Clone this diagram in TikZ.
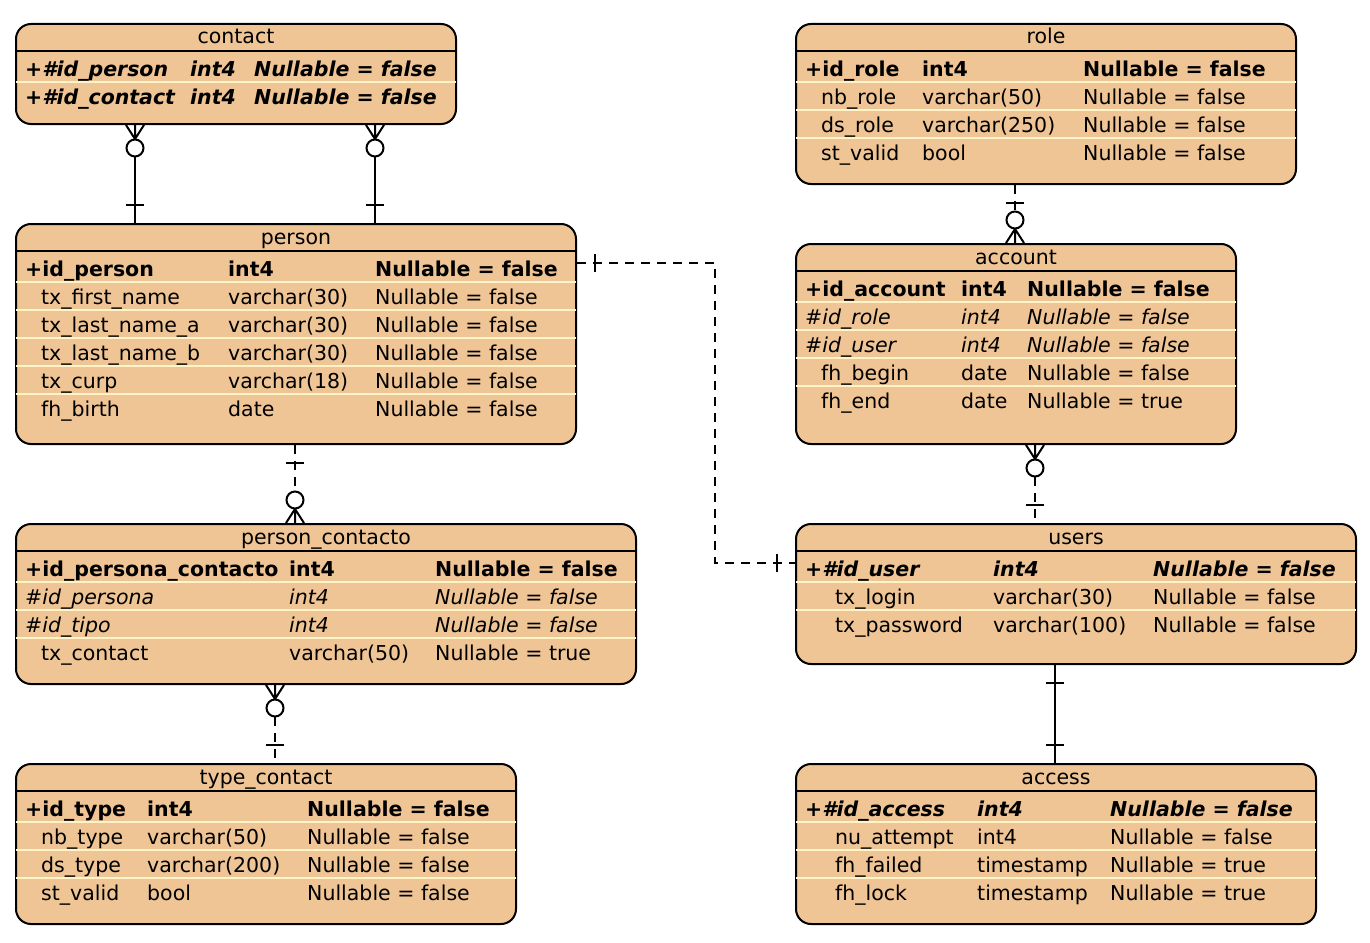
\documentclass[tikz,border=0pt]{standalone}
\usepackage{fontspec}
\setmainfont{DejaVu Sans}[Scale=2.05]
\usetikzlibrary{calc}
\definecolor{erfill}{RGB}{239,197,150}
\definecolor{rowsep}{RGB}{255,243,200}
\tikzset{
ertable/.style={draw, line width=2pt, fill=erfill, rounded corners=15pt, anchor=north west, inner sep=0pt},
ertitle/.style={anchor=base, inner sep=0pt},
cell/.style={anchor=base west, inner sep=0pt},
pk/.style={cell, font=\bfseries},
fk/.style={cell, font=\itshape},
pfk/.style={cell, font=\bfseries\itshape},
att/.style={cell},
rowline/.style={draw=rowsep, line width=2pt},
rel/.style={line width=2pt},
weak/.style={rel, dash pattern=on 9pt off 7pt},
zeromany/.pic={\draw[rel] (-9,0) -- (0,14) -- (9,0) (0,0) -- (0,14);
  \draw[rel, fill=white] (0,23) circle (8.5pt);},
onebar/.pic={\draw[rel] (-9,18) -- (9,18);},
}
% table box: name, x, y, width, height, title
\newcommand{\erentity}[6]{
  \node[ertable, minimum width=#4pt, minimum height=#5pt] (#1) at (#2,#3) {};
  \node[ertitle] (#1-title) at ($(#1.north)+(0,21)$) {#6};
  \draw[rel] ($(#1.north west)+(0,28)$) -- ($(#1.north east)+(0,28)$);
}
% table rows: name, type column, nullable column, list of style/indent/field/type/nullable
\newcommand{\erfields}[4]{
  \foreach \s/\dx/\fname/\ftype/\fnull [count=\i] in {#4} {
    \ifnum\i>1
      \draw[rowline] ($(#1.north west)+(1,{31+28*(\i-1)})$) -- ($(#1.north east)+(-1,{31+28*(\i-1)})$);
    \fi
    \node[\s] (#1-\i-a) at ($(#1.north west)+(\dx,{53+28*(\i-1)})$) {\fname};
    \node[\s] (#1-\i-b) at ($(#1.north west)+(#2,{53+28*(\i-1)})$) {\ftype};
    \node[\s] (#1-\i-c) at ($(#1.north west)+(#3,{53+28*(\i-1)})$) {\fnull};
  }
}

\begin{document}
\begin{tikzpicture}[x=1pt, y=-1pt]
\useasboundingbox (0,0) rectangle (1370,942);
% left column
\erentity{contact}{15}{23}{440}{100}{contact}
\erfields{contact}{175}{239}{
  pfk/10/+\#id\_person/int4/Nullable = false,
  pfk/10/+\#id\_contact/int4/Nullable = false}
\erentity{person}{15}{223}{560}{220}{person}
\erfields{person}{213}{360}{
  pk/10/+id\_person/int4/Nullable = false,
  att/26/tx\_first\_name/varchar(30)/Nullable = false,
  att/26/tx\_last\_name\_a/varchar(30)/Nullable = false,
  att/26/tx\_last\_name\_b/varchar(30)/Nullable = false,
  att/26/tx\_curp/varchar(18)/Nullable = false,
  att/26/fh\_birth/date/Nullable = false}
\erentity{pcontact}{15}{523}{620}{160}{person\_contacto}
\erfields{pcontact}{274}{420}{
  pk/10/+id\_persona\_contacto/int4/Nullable = false,
  fk/10/\#id\_persona/int4/Nullable = false,
  fk/10/\#id\_tipo/int4/Nullable = false,
  att/26/tx\_contact/varchar(50)/Nullable = true}
\erentity{tcontact}{15}{763}{500}{160}{type\_contact}
\erfields{tcontact}{132}{292}{
  pk/10/+id\_type/int4/Nullable = false,
  att/26/nb\_type/varchar(50)/Nullable = false,
  att/26/ds\_type/varchar(200)/Nullable = false,
  att/26/st\_valid/bool/Nullable = false}
% right column
\erentity{role}{795}{23}{500}{160}{role}
\erfields{role}{127}{288}{
  pk/10/+id\_role/int4/Nullable = false,
  att/26/nb\_role/varchar(50)/Nullable = false,
  att/26/ds\_role/varchar(250)/Nullable = false,
  att/26/st\_valid/bool/Nullable = false}
\erentity{account}{795}{243}{440}{200}{account}
\erfields{account}{166}{232}{
  pk/10/+id\_account/int4/Nullable = false,
  fk/10/\#id\_role/int4/Nullable = false,
  fk/10/\#id\_user/int4/Nullable = false,
  att/26/fh\_begin/date/Nullable = false,
  att/26/fh\_end/date/Nullable = true}
\erentity{users}{795}{523}{560}{140}{users}
\erfields{users}{198}{358}{
  pfk/10/+\#id\_user/int4/Nullable = false,
  att/40/tx\_login/varchar(30)/Nullable = false,
  att/40/tx\_password/varchar(100)/Nullable = false}
\erentity{access}{795}{763}{520}{160}{access}
\erfields{access}{182}{315}{
  pfk/10/+\#id\_access/int4/Nullable = false,
  att/40/nu\_attempt/int4/Nullable = false,
  att/40/fh\_failed/timestamp/Nullable = true,
  att/40/fh\_lock/timestamp/Nullable = true}
% identifying relations
\draw[rel] (contact.south -| 135,0) -- (person.north -| 135,0);
\pic at (contact.south -| 135,0) {zeromany};
\pic[rotate=180] at (person.north -| 135,0) {onebar};
\draw[rel] (contact.south -| 375,0) -- (person.north -| 375,0);
\pic at (contact.south -| 375,0) {zeromany};
\pic[rotate=180] at (person.north -| 375,0) {onebar};
\draw[rel] (users.south -| 1055,0) -- (access.north -| 1055,0);
\pic at (users.south -| 1055,0) {onebar};
\pic[rotate=180] at (access.north -| 1055,0) {onebar};
% non identifying relations
\draw[weak] (person.south -| 295,0) -- (pcontact.north -| 295,0);
\pic at (person.south -| 295,0) {onebar};
\pic[rotate=180] at (pcontact.north -| 295,0) {zeromany};
\draw[weak] (pcontact.south -| 275,0) -- (tcontact.north -| 275,0);
\pic at (pcontact.south -| 275,0) {zeromany};
\pic[rotate=180] at (tcontact.north -| 275,0) {onebar};
\draw[weak] (role.south -| 1015,0) -- (account.north -| 1015,0);
\pic at (role.south -| 1015,0) {onebar};
\pic[rotate=180] at (account.north -| 1015,0) {zeromany};
\draw[weak] (account.south -| 1035,0) -- (users.north -| 1035,0);
\pic at (account.south -| 1035,0) {zeromany};
\pic[rotate=180] at (users.north -| 1035,0) {onebar};
\coordinate (bend) at (715,400);
\draw[weak] (person.east |- 0,263) -| (bend) |- (users.west |- 0,563);
\pic[rotate=90] at (person.east |- 0,263) {onebar};
\pic[rotate=-90] at (users.west |- 0,563) {onebar};
\end{tikzpicture}
\end{document}
